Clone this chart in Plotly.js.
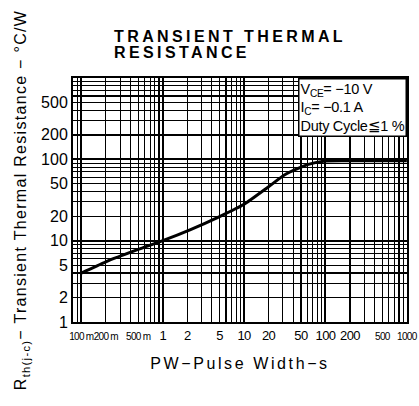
<!DOCTYPE html>
<html>
<head>
<meta charset="utf-8">
<script src="https://cdn.plot.ly/plotly-3.0.1.min.js"></script>
<style>
body{margin:0;padding:0;background:#fff;}
#chart{width:419px;height:406px;}
.gtitle{letter-spacing:3.4px;}
.xtitle{letter-spacing:2.6px;}
.ytitle{letter-spacing:1.3px;}
.xtick text{letter-spacing:-0.6px;}
.annotation-text{letter-spacing:-0.3px;}
</style>
</head>
<body>
<div id="chart"></div>
<script>
// Pulse width (s) and transient thermal resistance (°C/W)
const pulseWidth = [0.1, 0.2, 0.5, 1, 2.2, 5, 10, 20, 32, 60, 95, 200, 500, 1000];
const rth        = [4.0, 5.5, 7.8, 10, 13.7, 19.8, 28, 46, 65, 86, 95, 96, 96, 96];

const xTickVals = [0.1, 0.2, 0.5, 1, 2, 5, 10, 20, 50, 100, 200, 500, 1000];
const xTickText = ['100 m', '200 m', '500 m', '1', '2', '5', '10', '20', '50', '100', '200', '500', '1000'];
const yTickVals = [1, 2, 5, 10, 20, 50, 100, 200, 500];
const yTickText = ['1', '2', '5', '10', '20', '50', '100', '200', '500'];

const conditions = ['V<sub>CE</sub>= −10 V', 'I<sub>C</sub>= −0.1 A', 'Duty Cycle≦1 %'];

const xRange = [Math.log10(0.079), 3.002];
const yRange = [0, 3];

const trace = {
  x: pulseWidth, y: rth, type: 'scatter', mode: 'lines',
  line: {color: '#000', width: 3, shape: 'spline', smoothing: 0.6},
  hoverinfo: 'none', showlegend: false
};

const layout = {
  width: 419, height: 406,
  margin: {l: 73, r: 12, t: 78, b: 84},
  paper_bgcolor: '#fff', plot_bgcolor: '#fff',
  font: {family: 'Liberation Sans, Arial, sans-serif', color: '#000'},
  title: {
    text: 'TRANSIENT THERMAL<br>RESISTANCE',
    x: 114/419, xanchor: 'left', xref: 'container',
    y: 0.897, yanchor: 'top', yref: 'container',
    font: {size: 16, weight: 'bold', family: 'Liberation Sans, Arial, sans-serif', color: '#000'}
  },
  xaxis: {
    type: 'log', range: xRange,
    tickvals: xTickVals, ticktext: xTickText, tickangle: 0,
    ticklabeloverflow: 'allow',
    tickfont: {size: 13},
    ticks: '', showgrid: true, gridcolor: '#000', gridwidth: 1.3,
    minor: {dtick: 'D1', showgrid: true, gridcolor: '#000', gridwidth: 1.1, ticks: ''},
    showline: true, linecolor: '#000', linewidth: 2, mirror: true,
    zeroline: false,
    title: {text: 'PW−Pulse Width−s', font: {size: 16}, standoff: 16}
  },
  xaxis2: {
    type: 'log', range: xRange, overlaying: 'x', dtick: 1,
    showticklabels: false, ticks: '', showgrid: true, gridcolor: '#000', gridwidth: 2,
    zeroline: false
  },
  yaxis: {
    type: 'log', range: yRange,
    tickvals: yTickVals, ticktext: yTickText,
    tickfont: {size: 16},
    ticks: '', showgrid: true, gridcolor: '#000', gridwidth: 1.3,
    minor: {dtick: 'D1', showgrid: true, gridcolor: '#000', gridwidth: 1.1, ticks: ''},
    showline: true, linecolor: '#000', linewidth: 2, mirror: true,
    zeroline: false,
    title: {text: 'R<sub>th(j-c)</sub>− Transient Thermal Resistance − °C/W', font: {size: 16}, standoff: 10}
  },
  yaxis2: {
    type: 'log', range: yRange, overlaying: 'y', dtick: 1,
    showticklabels: false, ticks: '', showgrid: true, gridcolor: '#000', gridwidth: 2,
    zeroline: false
  },
  annotations: [{
    text: conditions.join('<br>'),
    xref: 'paper', yref: 'paper', x: 1, y: 1, xanchor: 'right', yanchor: 'top',
    showarrow: false, align: 'left',
    bgcolor: '#fff', bordercolor: '#000', borderwidth: 1.5, borderpad: 1,
    font: {size: 14.5, color: '#000'}
  }]
};

const gridTrace2 = {x: [1], y: [1], xaxis: 'x2', yaxis: 'y2', mode: 'markers', marker: {opacity: 0}, hoverinfo: 'none', showlegend: false};

Plotly.newPlot('chart', [gridTrace2, trace], layout, {staticPlot: true, displayModeBar: false}).then(function () {
  // condensed small labels as on the printed sheet
  document.querySelectorAll('.xtick text').forEach(function (t) {
    const s = t.textContent;
    if (s.indexOf('m') >= 0 || s === '500' || s === '1000') {
      t.style.fontSize = '10px';
      t.style.letterSpacing = '-0.7px';
    }
  });
  // tighter title line spacing
  const lines = document.querySelectorAll('.gtitle tspan.line');
  if (lines.length > 1) {
    lines[1].setAttribute('dy', '1.0em');
  }
});
</script>
</body>
</html>
